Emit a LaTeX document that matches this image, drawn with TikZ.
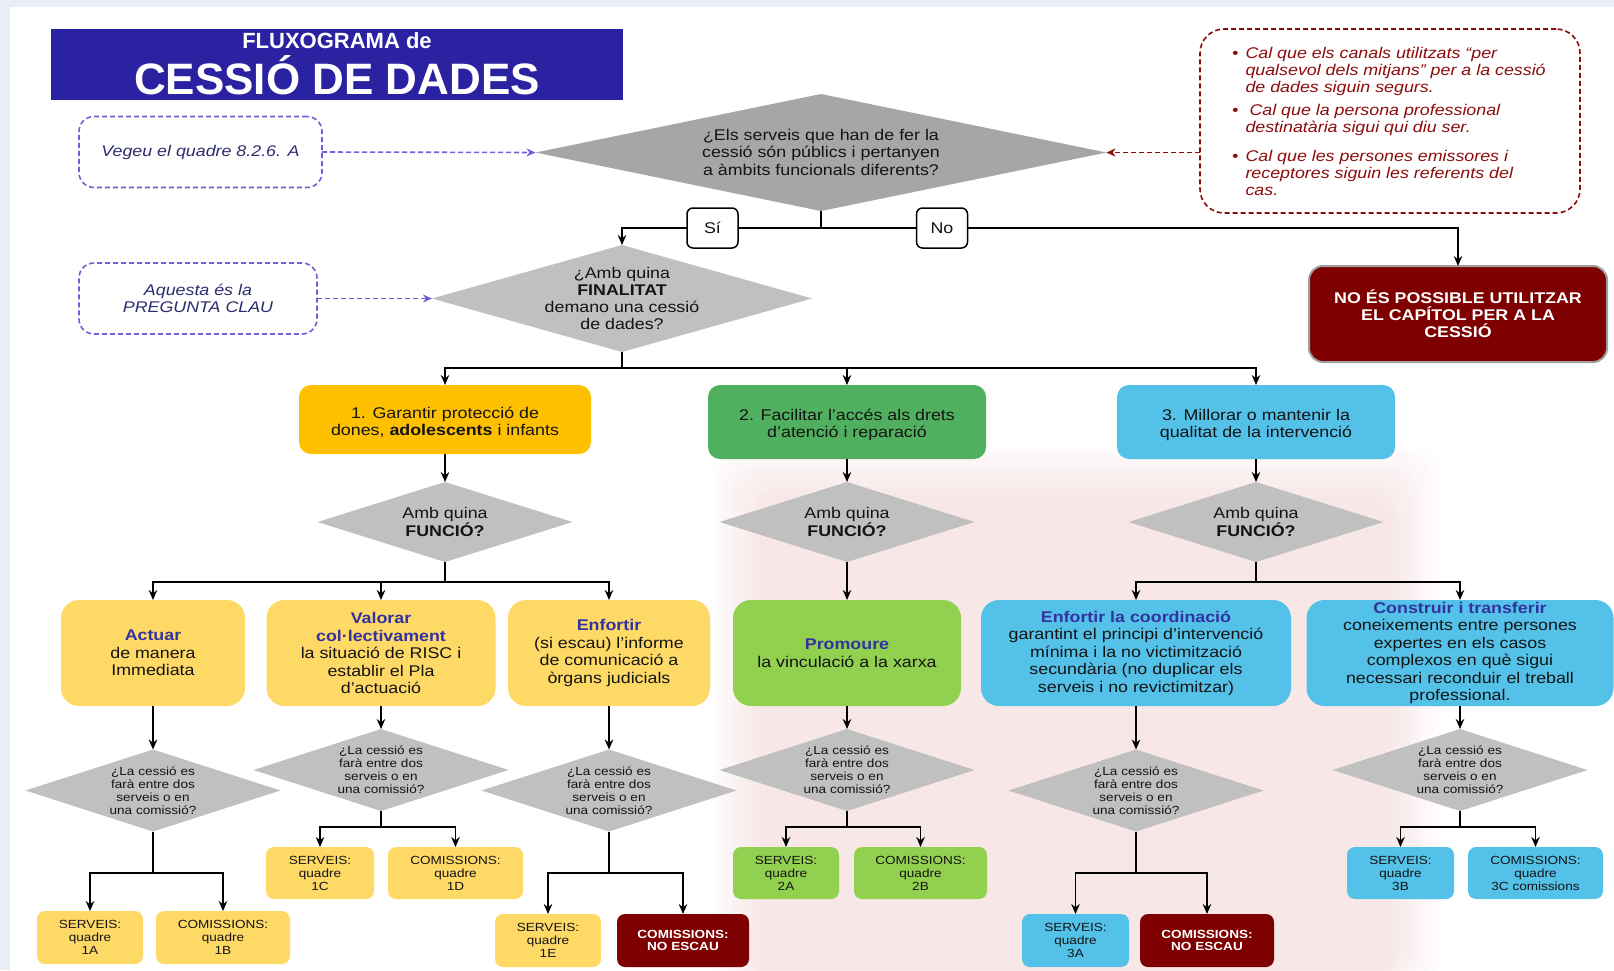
\documentclass[tikz,border=0pt]{standalone}
\usepackage{fontspec}
\setmainfont[FakeStretch=1.15]{Liberation Sans}
\newfontfamily\titlefont{Liberation Sans}
\usetikzlibrary{shapes.geometric,arrows.meta}
\definecolor{pagebg}{RGB}{233,238,246}
\definecolor{wm}{RGB}{235,110,130}
\definecolor{titleblue}{RGB}{42,34,160}
\definecolor{dblue}{RGB}{108,98,216}
\definecolor{navy}{RGB}{45,45,110}
\definecolor{nred}{RGB}{140,12,12}
\definecolor{nobox}{RGB}{127,0,0}
\definecolor{qdark}{RGB}{166,166,166}
\definecolor{qlight}{RGB}{192,192,192}
\definecolor{orangeb}{RGB}{255,192,0}
\definecolor{greenb}{RGB}{80,176,96}
\definecolor{cyanb}{RGB}{83,193,232}
\definecolor{yellowb}{RGB}{255,217,102}
\definecolor{limeb}{RGB}{146,208,80}
\definecolor{hblue}{RGB}{50,50,160}
\definecolor{textc}{RGB}{20,20,20}
\newcommand{\hdr}[1]{\textbf{\color{hblue}#1}}
\newcommand{\topstrut}{\rule{0pt}{17pt}}
\tikzset{
  every node/.style={inner sep=0pt, outer sep=0pt},
  bodyf/.style={font=\fontsize{15.5}{17.5}\selectfont},
  smallf/.style={font=\fontsize{11.8}{13}\selectfont},
  bigbox/.style={rectangle, rounded corners=#1, align=center, bodyf, text=textc},
  bigbox/.default=13pt,
  smbox/.style={rectangle, rounded corners=8pt, align=center, smallf, text=textc},
  diam/.style={diamond, inner sep=0pt},
  dtext/.style={align=center, text=textc},
  dashbox/.style={draw=#1, dash pattern=on 5pt off 3pt, line width=1.6pt, align=center},
  dasharr/.style={draw=#1, dash pattern=on 5pt off 3pt, line width=1.6pt, -{Stealth[length=9pt,width=8pt]}},
  conn/.style={line width=1.9pt, draw=black},
  arr/.style={conn, -{Stealth[length=10pt,width=8.5pt]}},
  yn/.style={rectangle, rounded corners=6pt, draw=black, line width=1.5pt, fill=white, minimum width=51pt, minimum height=40pt, bodyf, text=textc},
  notef/.style={font=\itshape\fontsize{15.5}{17}\selectfont, text=nred, align=left}
}
\begin{document}
\begin{tikzpicture}[x=1pt,y=-1pt]
\useasboundingbox (0,0) rectangle (1614,970);
\fill[white] (0,0) rectangle (1614,970);
% faint background watermark (soft edges)
\foreach \i in {0,...,7}{
  \fill[wm, opacity=0.018, rounded corners=30pt] (710+\i*7,445+\i*7) rectangle (1440-\i*7,985);
}
\fill[pagebg] (0,0) rectangle (1614,7);
\fill[pagebg] (0,0) rectangle (10,970);

% ---------- title
\node[fill=titleblue, minimum width=572pt, minimum height=71pt] (title) at (337,64.5) {};
\node[text=white, font=\titlefont\fontsize{22}{24}\selectfont\bfseries, anchor=base] (t1) at (337,48) {FLUXOGRAMA de};
\node[text=white, font=\titlefont\fontsize{44}{46}\selectfont\bfseries, anchor=base] (t2) at (337,94.5) {CESSIÓ DE DADES};

% ---------- side notes
\node[dashbox=dblue, rounded corners=15pt, minimum width=243pt, minimum height=71pt, text=navy, font=\itshape\fontsize{15.5}{17}\selectfont] (vegeu) at (200.5,152) {Vegeu el quadre 8.2.6. A};
\node[dashbox=dblue, rounded corners=15pt, minimum width=238pt, minimum height=71pt, text=navy, font=\itshape\fontsize{15.5}{17}\selectfont] (preg) at (198,298.5) {Aquesta és la\\PREGUNTA CLAU};

\node[dashbox=nred, rounded corners=24pt, minimum width=380pt, minimum height=184pt] (note) at (1390,121) {};
\node[notef, anchor=base west] (n1) at (1232,58) {\begin{tabular}[t]{@{}p{13.5pt}@{}l@{}}\textbullet & Cal que els canals utilitzats “per\\ & qualsevol dels mitjans” per a la cessió\\ & de dades siguin segurs.\end{tabular}};
\node[notef, anchor=base west] (n2) at (1232,115.5) {\begin{tabular}[t]{@{}p{13.5pt}@{}l@{}}\textbullet & \hspace{4pt}Cal que la persona professional\\ & destinatària sigui qui diu ser.\end{tabular}};
\node[notef, anchor=base west] (n3) at (1232,161) {\begin{tabular}[t]{@{}p{13.5pt}@{}l@{}}\textbullet & Cal que les persones emissores i\\ & receptores siguin les referents del\\ & cas.\end{tabular}};

% ---------- top decision
\node[diam, fill=qdark, minimum width=571pt, minimum height=117pt] (q0) at (821,152.5) {};
\node[dtext, bodyf] (q0t) at (821,152) {¿Els serveis que han de fer la\\cessió són públics i pertanyen\\a àmbits funcionals diferents?};

\node[diam, fill=qlight, minimum width=380pt, minimum height=107pt] (q1) at (622,298.5) {};
\node[dtext, font=\fontsize{15.5}{17.2}\selectfont] (q1t) at (622,298.5) {¿Amb quina\\\textbf{FINALITAT}\\demano una cessió\\de dades?};

\node[rectangle, rounded corners=14pt, fill=nobox, draw=gray!75, line width=2pt, minimum width=298pt, minimum height=96pt, text=white, align=center, font=\fontsize{15.5}{17}\selectfont\bfseries] (nobx) at (1458,314) {NO ÉS POSSIBLE UTILITZAR\\EL CAPÍTOL PER A LA\\CESSIÓ};

% ---------- finalitats
\node[bigbox=12pt, fill=orangeb, minimum width=292pt, minimum height=69pt] (g1) at (445,419.5) {\topstrut 1. Garantir protecció de\\dones, \textbf{adolescents} i infants};
\node[bigbox=12pt, fill=greenb, minimum width=278pt, minimum height=74pt] (g2) at (847,422) {\topstrut 2. Facilitar l’accés als drets\\d’atenció i reparació};
\node[bigbox=12pt, fill=cyanb, minimum width=278pt, minimum height=74pt] (g3) at (1256,422) {\topstrut 3. Millorar o mantenir la\\qualitat de la intervenció};

% ---------- funció diamonds
\foreach \n/\x in {f1/445,f2/847,f3/1256}{
  \node[diam, fill=qlight, minimum width=255pt, minimum height=80pt] (\n) at (\x,522) {};
  \node[dtext, bodyf] (\n t) at (\x,522) {Amb quina\\\textbf{FUNCIÓ?}};
}

% ---------- funcions
\node[bigbox=18pt, fill=yellowb, minimum width=184pt, minimum height=106pt] (a1) at (153,653) {\hdr{Actuar}\\de manera\\Immediata};
\node[bigbox=18pt, fill=yellowb, minimum width=229pt, minimum height=106pt] (a2) at (381,653) {\hdr{Valorar}\\\hdr{col·lectivament}\\la situació de RISC i\\establir el Pla\\d’actuació};
\node[bigbox=18pt, fill=yellowb, minimum width=202pt, minimum height=106pt] (a3) at (609,653) {\hdr{Enfortir}\\(si escau) l’informe\\de comunicació a\\òrgans judicials};
\node[bigbox=18pt, fill=limeb, minimum width=228pt, minimum height=106pt] (b1) at (847,653) {\hdr{Promoure}\\la vinculació a la xarxa};
\node[bigbox=18pt, fill=cyanb, minimum width=310pt, minimum height=106pt] (c1) at (1136,653) {\hdr{Enfortir la coordinació}\\garantint el principi d’intervenció\\mínima i la no victimització\\secundària (no duplicar els\\serveis i no revictimitzar)};
\node[bigbox=18pt, fill=cyanb, minimum width=307pt, minimum height=106pt] (c2) at (1460,653) {\hdr{Construir i transferir}\\coneixements entre persones\\expertes en els casos\\complexos en què sigui\\necessari reconduir el treball\\professional.};

% ---------- question diamonds
\foreach \n/\x/\y in {qa1/153/790.5, qa2/381/770, qa3/609/790.5, qb1/847/770, qc1/1136/790.5, qc2/1460/770}{
  \node[diam, fill=qlight, minimum width=255pt, minimum height=82pt] (\n) at (\x,\y) {};
  \node[dtext, smallf] (\n t) at (\x,\y) {¿La cessió es\\farà entre dos\\serveis o en\\una comissió?};
}

% ---------- leaves
\node[smbox, fill=yellowb, minimum width=106pt, minimum height=53pt] (s1a) at (90,937.5) {SERVEIS:\\quadre\\1A};
\node[smbox, fill=yellowb, minimum width=134pt, minimum height=53pt] (s1b) at (223,937.5) {COMISSIONS:\\quadre\\1B};
\node[smbox, fill=yellowb, minimum width=108pt, minimum height=52pt] (s1c) at (320,873) {SERVEIS:\\quadre\\1C};
\node[smbox, fill=yellowb, minimum width=135pt, minimum height=52pt] (s1d) at (455.5,873) {COMISSIONS:\\quadre\\1D};
\node[smbox, fill=yellowb, minimum width=106pt, minimum height=53pt] (s1e) at (548,940.5) {SERVEIS:\\quadre\\1E};
\node[smbox, fill=nobox, text=white, font=\fontsize{11.8}{12.8}\selectfont\bfseries, minimum width=132pt, minimum height=53pt] (ne1) at (683,940.5) {COMISSIONS:\\NO ESCAU};
\node[smbox, fill=limeb, minimum width=106pt, minimum height=52pt] (s2a) at (786,873) {SERVEIS:\\quadre\\2A};
\node[smbox, fill=limeb, minimum width=133pt, minimum height=52pt] (s2b) at (920.5,873) {COMISSIONS:\\quadre\\2B};
\node[smbox, fill=cyanb, minimum width=107pt, minimum height=53pt] (s3a) at (1075.5,940.5) {SERVEIS:\\quadre\\3A};
\node[smbox, fill=nobox, text=white, font=\fontsize{11.8}{12.8}\selectfont\bfseries, minimum width=134pt, minimum height=53pt] (ne2) at (1207,940.5) {COMISSIONS:\\NO ESCAU};
\node[smbox, fill=cyanb, minimum width=107pt, minimum height=52pt] (s3b) at (1400.5,873) {SERVEIS:\\quadre\\3B};
\node[smbox, fill=cyanb, minimum width=135pt, minimum height=52pt] (s3c) at (1535.5,873) {COMISSIONS:\\quadre\\3C comissions};

% ---------- junctions
\coordinate (j0) at (821,228);
\coordinate (j1) at (622,368);
\coordinate (jf1) at (445,582);
\coordinate (jf3) at (1256,582);
\coordinate (ja1) at (153,873);
\coordinate (ja2) at (381,827);
\coordinate (ja3) at (609,873);
\coordinate (jb1) at (847,827);
\coordinate (jc1) at (1136,873);
\coordinate (jc2) at (1460,827);

% ---------- connectors
\draw[dasharr=dblue] (vegeu.east) -- (q0.west);
\draw[dasharr=dblue] (preg.east) -- (q1.west);
\draw[dasharr=nred] (note.west |- q0.east) -- (q0.east);

\draw[conn] (q0.south) -- (j0);
\draw[arr] (j0) -| (q1.north);
\draw[arr] (j0) -| (nobx.north);

\draw[conn] (q1.south) -- (j1);
\draw[arr] (j1) -| (g1.north);
\draw[arr] (j1) -| (g2.north);
\draw[arr] (j1) -| (g3.north);

\draw[arr] (g1.south) -- (f1.north);
\draw[arr] (g2.south) -- (f2.north);
\draw[arr] (g3.south) -- (f3.north);

\draw[conn] (f1.south) -- (jf1);
\draw[arr] (jf1) -| (a1.north);
\draw[arr] (jf1) -| (a2.north);
\draw[arr] (jf1) -| (a3.north);
\draw[arr] (f2.south) -- (b1.north);
\draw[conn] (f3.south) -- (jf3);
\draw[arr] (jf3) -| (c1.north);
\draw[arr] (jf3) -| (c2.north);

\draw[arr] (a1.south) -- (qa1.north);
\draw[arr] (a2.south) -- (qa2.north);
\draw[arr] (a3.south) -- (qa3.north);
\draw[arr] (b1.south) -- (qb1.north);
\draw[arr] (c1.south) -- (qc1.north);
\draw[arr] (c2.south) -- (qc2.north);

\draw[conn] (qa1.south) -- (ja1);
\draw[arr] (ja1) -| (s1a.north);
\draw[arr] (ja1) -| (s1b.north);
\draw[conn] (qa2.south) -- (ja2);
\draw[arr] (ja2) -| (s1c.north);
\draw[arr] (ja2) -| (s1d.north);
\draw[conn] (qa3.south) -- (ja3);
\draw[arr] (ja3) -| (s1e.north);
\draw[arr] (ja3) -| (ne1.north);
\draw[conn] (qb1.south) -- (jb1);
\draw[arr] (jb1) -| (s2a.north);
\draw[arr] (jb1) -| (s2b.north);
\draw[conn] (qc1.south) -- (jc1);
\draw[arr] (jc1) -| (s3a.north);
\draw[arr] (jc1) -| (ne2.north);
\draw[conn] (qc2.south) -- (jc2);
\draw[arr] (jc2) -| (s3b.north);
\draw[arr] (jc2) -| (s3c.north);

% ---------- yes / no labels on the branch line
\node[yn] (si) at (712.5,228) {Sí};
\node[yn] (no) at (942,228) {No};
\end{tikzpicture}
\end{document}
